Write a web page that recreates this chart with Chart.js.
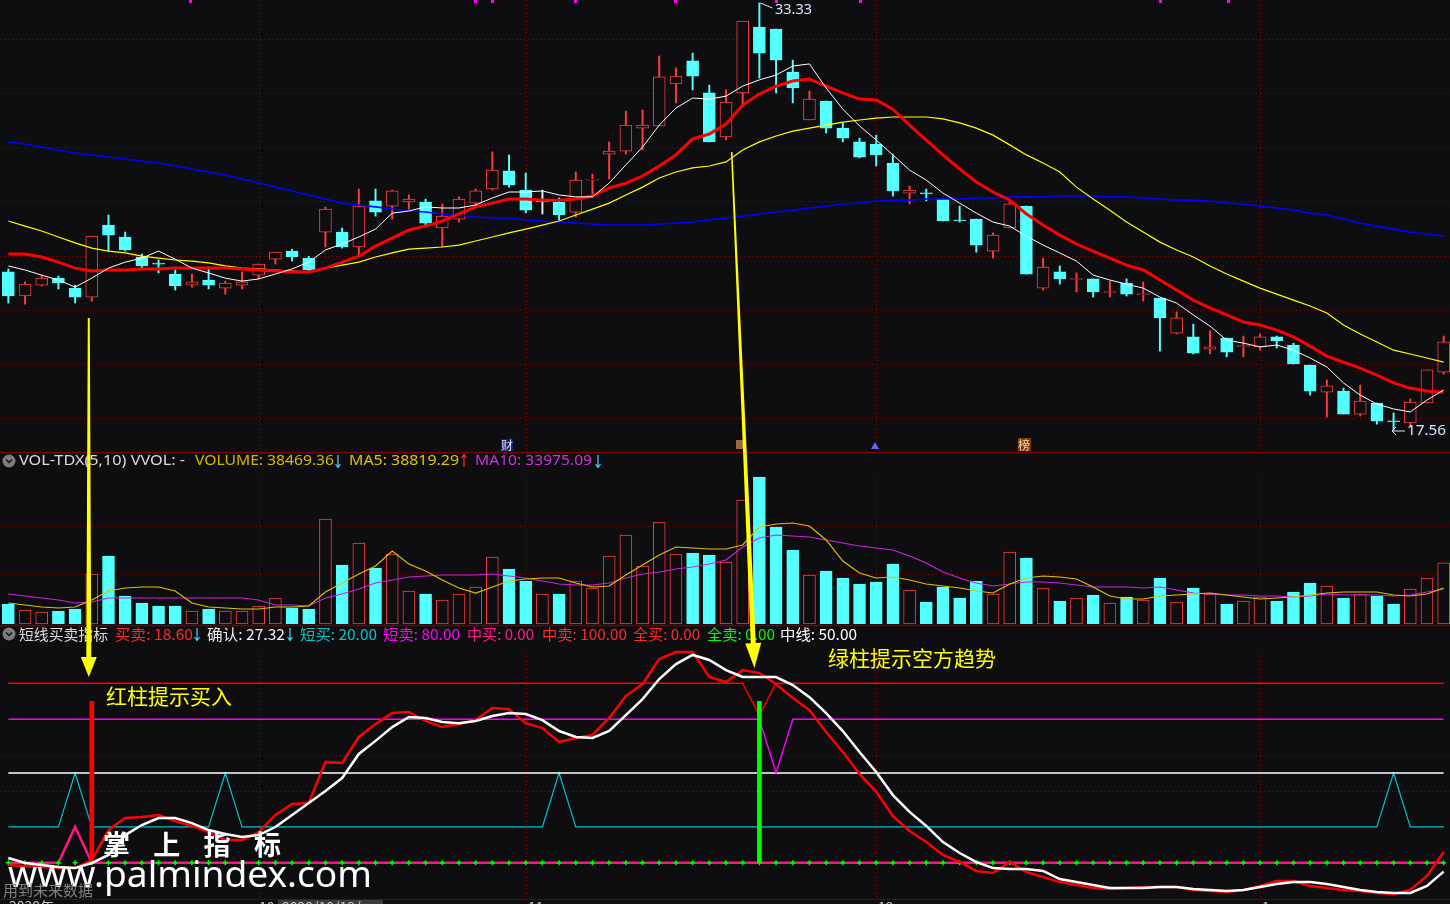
<!DOCTYPE html>
<html>
<head>
<meta charset="utf-8">
<script src="https://cdn.jsdelivr.net/npm/chart.js@4.4.0/dist/chart.umd.min.js"></script>
<style>
  html, body { margin: 0; padding: 0; background: #0e0e11; overflow: hidden; }
  #wrap { position: relative; width: 1450px; height: 904px; overflow: hidden; }
  canvas { position: absolute; left: 0; }
</style>
</head>
<body>
<div id="wrap">
  <canvas id="price" width="1452" height="452" style="top:0"></canvas>
  <canvas id="vol" width="1452" height="173" style="top:452px"></canvas>
  <canvas id="ind" width="1452" height="279" style="top:625px"></canvas>
  <canvas id="over" width="1450" height="904" style="top:0"></canvas>
</div>
<script>
// candles
const opens = [23.40,22.51,22.91,23.17,22.80,22.47,25.13,24.69,23.95,23.73,
  23.32,22.91,23.10,22.80,22.91,23.28,23.87,24.17,23.91,24.87,
  24.87,24.32,26.02,25.83,25.98,25.98,25.02,25.35,25.94,26.46,
  27.13,26.42,25.98,25.98,25.61,26.79,27.75,27.86,28.71,28.79,
  30.34,31.19,30.01,28.38,30.01,32.44,32.37,30.78,29.01,29.71,
  28.71,28.20,28.12,27.42,26.31,26.30,26.09,25.30,25.35,24.17,
  25.02,25.83,22.80,23.40,23.12,23.14,22.64,22.99,22.56,22.43,
  21.14,21.00,20.55,20.96,20.64,20.63,21.00,20.70,19.96,18.96,
  19.00,18.15,18.56,17.87,17.82,18.56,19.70];
const highs = [23.51,23.03,23.28,23.25,22.91,24.72,25.50,24.87,24.06,23.84,
  23.47,23.32,23.58,23.06,23.40,23.69,24.13,24.24,23.98,25.80,
  25.02,26.46,26.46,26.42,26.24,26.09,25.91,26.17,26.46,27.83,
  27.72,27.05,26.42,26.13,27.09,27.01,28.20,29.34,29.38,31.37,
  30.93,31.48,30.30,30.12,32.66,33.33,32.37,31.22,30.08,29.71,
  28.90,28.34,28.45,27.75,26.57,26.46,26.09,25.83,25.35,24.84,
  25.98,25.83,23.91,23.62,23.36,23.14,23.06,23.14,23.03,22.43,
  21.92,21.47,21.22,20.96,21.03,21.11,21.03,20.77,19.96,19.41,
  19.11,19.22,18.56,18.19,18.71,19.78,21.03];
const lows = [22.25,22.21,22.88,22.77,22.25,22.32,24.17,24.17,23.51,23.36,
  22.73,22.84,22.77,22.58,22.77,23.14,23.69,23.80,23.43,24.32,
  24.28,23.95,25.46,25.35,25.72,25.13,24.32,25.24,25.80,26.42,
  26.53,25.58,25.54,25.32,25.43,26.17,26.83,27.75,27.90,28.79,
  29.64,30.12,28.20,28.27,29.49,30.56,30.01,29.64,29.01,28.53,
  28.20,27.61,27.31,26.20,25.91,26.02,25.28,25.24,24.13,23.91,
  25.02,23.32,22.73,22.95,22.66,22.47,22.47,22.51,22.32,20.48,
  21.11,20.37,20.37,20.26,20.26,20.51,20.59,20.00,18.85,18.04,
  18.15,18.08,17.78,17.56,17.67,18.56,19.63];
const closes = [22.51,22.95,23.17,22.99,22.47,24.72,24.76,24.21,23.62,23.69,
  22.88,23.03,22.91,22.99,23.03,23.69,24.13,23.95,23.47,25.72,
  24.32,25.83,25.61,26.39,26.09,25.20,25.46,26.09,26.39,27.16,
  26.61,25.68,25.98,25.50,26.79,26.83,27.86,28.82,28.82,30.60,
  30.63,30.63,28.20,29.67,32.66,31.48,31.22,30.19,29.78,28.71,
  28.34,27.64,27.72,26.39,26.42,26.28,25.28,25.28,24.39,24.76,
  25.91,23.32,23.58,23.14,23.14,22.66,22.66,22.58,22.58,21.70,
  21.70,20.40,20.63,20.44,20.66,21.00,20.85,20.00,19.00,19.19,
  18.15,18.63,17.89,17.86,18.59,19.78,20.82];

// price moving averages
const ma5 = [23.62,23.47,23.28,23.10,22.84,23.17,23.54,23.76,23.91,24.17,
  23.87,23.54,23.36,23.17,23.06,23.14,23.32,23.51,23.76,24.21,
  24.43,24.69,24.98,25.57,25.65,25.80,25.76,25.76,25.87,26.13,
  26.35,26.35,26.39,26.24,26.17,26.17,26.68,27.35,28.01,28.82,
  29.45,29.82,29.78,29.89,30.26,30.49,30.67,31.00,31.08,30.19,
  29.41,28.79,28.27,27.72,27.16,26.79,26.31,25.94,25.57,25.24,
  25.09,24.72,24.39,24.10,23.80,23.28,23.10,22.95,22.80,22.47,
  22.25,21.81,21.40,20.88,20.77,20.63,20.70,20.51,20.22,19.89,
  19.30,18.85,18.52,18.34,18.23,18.67,19.04];
const ma10 = [24.06,24.06,23.95,23.76,23.54,23.43,23.47,23.47,23.51,23.51,
  23.54,23.54,23.54,23.54,23.51,23.47,23.43,23.40,23.40,23.54,
  23.76,23.98,24.35,24.65,24.95,25.09,25.28,25.54,25.80,25.94,
  26.09,26.09,26.05,26.05,26.09,26.20,26.50,26.68,26.94,27.31,
  27.72,28.31,28.49,28.86,29.56,29.97,30.26,30.45,30.52,30.26,
  30.01,29.78,29.75,29.41,28.82,28.27,27.72,27.20,26.72,26.35,
  26.05,25.54,25.13,24.76,24.43,24.17,23.91,23.65,23.47,23.10,
  22.73,22.36,22.07,21.81,21.55,21.44,21.25,21.00,20.66,20.29,
  20.07,19.85,19.59,19.30,19.11,19.00,18.96];
const ma20 = [25.28,25.09,24.91,24.69,24.47,24.28,24.17,24.10,23.98,23.91,
  23.84,23.80,23.73,23.62,23.54,23.51,23.47,23.43,23.40,23.54,
  23.65,23.76,23.95,24.10,24.24,24.28,24.32,24.39,24.54,24.69,
  24.84,24.98,25.13,25.28,25.50,25.72,25.94,26.24,26.53,26.87,
  27.09,27.24,27.31,27.46,27.90,28.20,28.42,28.60,28.71,28.82,
  28.93,29.01,29.08,29.12,29.12,29.12,29.05,28.90,28.71,28.45,
  28.09,27.72,27.42,27.09,26.53,26.09,25.68,25.24,24.87,24.50,
  24.21,23.95,23.62,23.32,23.06,22.80,22.58,22.36,22.14,21.88,
  21.44,21.11,20.81,20.51,20.37,20.22,20.07];
const ma60 = [28.20,28.12,28.01,27.90,27.79,27.72,27.64,27.57,27.49,27.42,
  27.31,27.20,27.09,26.98,26.83,26.68,26.53,26.39,26.24,26.09,
  25.94,25.87,25.80,25.72,25.65,25.61,25.54,25.50,25.43,25.39,
  25.39,25.32,25.28,25.24,25.20,25.17,25.13,25.13,25.13,25.17,
  25.20,25.24,25.32,25.39,25.46,25.54,25.61,25.68,25.76,25.83,
  25.91,25.94,26.02,26.05,26.05,26.09,26.09,26.09,26.13,26.13,
  26.17,26.17,26.17,26.20,26.20,26.20,26.17,26.17,26.13,26.09,
  26.05,26.05,26.02,25.94,25.91,25.83,25.76,25.68,25.57,25.50,
  25.35,25.20,25.09,24.98,24.87,24.80,24.72];

// volume panel
const volumes = [12600,8820,7560,8190,9450,31500,42840,17640,13230,11340,
  11340,8190,9450,8190,8190,11340,16380,10080,9450,66150,
  37170,51030,35280,44100,20790,18900,15120,18900,23310,42210,
  34650,27090,18900,18900,27090,22680,42840,56070,36540,64260,
  44100,44730,43470,39060,78120,92610,61110,46620,30870,33390,
  28980,25200,26460,37800,21420,13860,23310,16380,27090,18900,
  45360,41580,22680,14490,16380,18270,13230,17010,15120,28980,
  13860,22680,18900,12600,14490,17010,14490,20160,25830,23940,
  16380,18900,17640,12600,22050,28980,38469.36];
const volMa5 = [13230,11970,10710,10080,10710,15120,20790,22680,23310,23310,
  20790,13230,10710,10080,9450,9450,10710,10710,11340,20160,
  25830,31500,36540,45990,37800,33390,27720,22680,19530,23310,
  27090,28350,28980,28980,25830,23310,23940,30870,37170,43470,
  48510,47880,47250,47250,49770,61110,63000,63630,61740,52920,
  39690,32130,28980,29610,27720,25200,23940,22680,20790,19530,
  25200,28980,30240,29610,28350,23310,17640,15750,15750,17640,
  18270,18900,19530,18270,17010,15750,16380,17010,18270,19530,
  20160,20160,20160,18270,17640,18900,22680];
const volMa10 = [18900,17640,16380,15120,13230,13860,16380,16380,16380,16380,
  16380,16380,16380,16380,16380,15120,11970,11970,11340,16380,
  18900,22050,25830,27720,29610,30240,30870,30870,30870,31500,
  30240,28980,27090,25200,24570,24570,25830,28980,31500,32760,
  34650,35910,37800,40320,48510,54180,56070,55440,54810,52920,
  51030,49140,47880,46620,42840,38430,32760,28980,25830,23940,
  25200,26460,26460,25830,24570,23310,23310,23310,22680,23310,
  21420,19530,18900,18270,18270,17640,17640,17010,17640,18900,
  18270,18270,18270,17640,18270,20160,22050];

// 短线买卖指标
const buySell = [-1.3,-1.8,-2.4,-3.0,-3.0,1.5,18.2,24.9,25.5,26.6,
  23.2,20.5,17.1,12.7,12.7,17.1,26.6,32.7,33.3,56.2,
  55.6,70.1,77.3,83.4,84.0,79.0,75.6,77.3,79.5,86.2,
  85.6,77.8,75.0,67.3,69.5,71.2,80.7,92.9,99.6,113.5,
  117.4,117.4,103.5,100.7,107.4,105.7,99.6,91.8,85.1,72.9,
  61.7,49.5,39.5,26.0,17.7,11.5,4.3,0.4,-4.6,-5.7,
  0.4,-5.2,-8.0,-10.8,-12.4,-14.1,-14.7,-14.1,-13.5,-13.5,
  -13.5,-15.2,-15.8,-16.3,-15.2,-13.0,-10.2,-10.2,-13.0,-14.1,
  -15.2,-15.8,-16.9,-17.4,-15.2,-7.4,6.0];
const confirm = [2.6,-0.2,-1.3,-2.4,-3.0,-0.2,4.3,15.4,21.0,24.9,
  24.9,22.1,18.2,16.0,14.3,15.4,19.9,26.6,33.3,40.0,
  47.2,60.6,67.9,75.6,81.2,80.7,78.4,77.8,79.0,81.8,
  83.4,82.9,79.5,73.4,70.1,69.5,73.4,82.3,91.2,102.4,
  110.7,115.8,113.0,107.4,103.5,103.5,103.5,99.0,92.3,83.4,
  73.4,61.7,50.6,37.7,28.3,20.5,11.5,5.4,0.4,-3.0,
  -3.5,-3.5,-4.6,-9.1,-10.8,-12.4,-14.1,-14.1,-14.1,-13.5,
  -13.5,-14.7,-15.2,-15.8,-15.2,-13.5,-11.9,-10.8,-10.8,-11.9,
  -13.5,-15.2,-16.3,-16.9,-16.9,-13.0,-5.0];
const shortBuy = [20,20,20,20,50,20,20,20,20,20,
  20,20,20,50,20,20,20,20,20,20,
  20,20,20,20,20,20,20,20,20,20,
  20,20,20,50,20,20,20,20,20,20,
  20,20,20,20,20,20,20,20,20,20,
  20,20,20,20,20,20,20,20,20,20,
  20,20,20,20,20,20,20,20,20,20,
  20,20,20,20,20,20,20,20,20,20,
  20,20,20,50,20,20,20];
const shortSell = [80,80,80,80,80,80,80,80,80,80,
  80,80,80,80,80,80,80,80,80,80,
  80,80,80,80,80,80,80,80,80,80,
  80,80,80,80,80,80,80,80,80,80,
  80,80,80,80,80,80,50,80,80,80,
  80,80,80,80,80,80,80,80,80,80,
  80,80,80,80,80,80,80,80,80,80,
  80,80,80,80,80,80,80,80,80,80,
  80,80,80,80,80,80,80];
const midBuy = [0,0,0,0,20,0,0,0,0,0,
  0,0,0,0,0,0,0,0,0,0,
  0,0,0,0,0,0,0,0,0,0,
  0,0,0,0,0,0,0,0,0,0,
  0,0,0,0,0,0,0,0,0,0,
  0,0,0,0,0,0,0,0,0,0,
  0,0,0,0,0,0,0,0,0,0,
  0,0,0,0,0,0,0,0,0,0,
  0,0,0,0,0,0,0];
const midSell = [100,100,100,100,100,100,100,100,100,100,
  100,100,100,100,100,100,100,100,100,100,
  100,100,100,100,100,100,100,100,100,100,
  100,100,100,100,100,100,100,100,100,100,
  100,100,100,100,100,82,100,100,100,100,
  100,100,100,100,100,100,100,100,100,100,
  100,100,100,100,100,100,100,100,100,100,
  100,100,100,100,100,100,100,100,100,100,
  100,100,100,100,100,100,100];
const midLine = [50,50,50,50,50,50,50,50,50,50,
  50,50,50,50,50,50,50,50,50,50,
  50,50,50,50,50,50,50,50,50,50,
  50,50,50,50,50,50,50,50,50,50,
  50,50,50,50,50,50,50,50,50,50,
  50,50,50,50,50,50,50,50,50,50,
  50,50,50,50,50,50,50,50,50,50,
  50,50,50,50,50,50,50,50,50,50,
  50,50,50,50,50,50,50];
const allSellDots = midBuy.map(() => 0);
const allBuyDays = [5];
const allSellDays = [45];
const stickHeight = 90;
const gridDays = [15, 31, 52, 75];

const FONT = '"Noto Sans", "Noto Sans CJK SC", sans-serif';
const CJK = '"Noto Sans CJK SC", sans-serif';
const BG = '#0e0e11';
const UP = '#ff3b3b', DOWN = '#54ffff', FLAT = '#e8e8e8';

const days = opens.map((_, i) => i);
const candleColor = days.map(i => closes[i] > opens[i] ? UP : closes[i] < opens[i] ? DOWN : FLAT);
const candleFill = days.map(i => closes[i] > opens[i] ? BG : candleColor[i]);
const volColor = days.map(i => closes[i] >= opens[i] ? UP : DOWN);
const volFill = days.map(i => closes[i] >= opens[i] ? BG : DOWN);

// dotted grid, drawn under the data
const gridPlugin = {
  id: 'grid',
  beforeDatasetsDraw(chart, args, opts) {
    const { ctx, scales } = chart;
    ctx.save();
    ctx.strokeStyle = '#7c0c0c';
    ctx.lineWidth = 1;
    ctx.setLineDash([1, 3]);
    (opts.values || []).forEach(v => {
      const y = Math.round(scales.y.getPixelForValue(v)) + 0.5;
      ctx.beginPath(); ctx.moveTo(0, y); ctx.lineTo(chart.width, y); ctx.stroke();
    });
    (opts.rows || []).forEach(y => {
      ctx.beginPath(); ctx.moveTo(0, y + 0.5); ctx.lineTo(chart.width, y + 0.5); ctx.stroke();
    });
    gridDays.forEach(d => {
      const x = Math.round(scales.x.getPixelForValue(d)) + 0.5;
      ctx.beginPath(); ctx.moveTo(x, opts.colTop || 0); ctx.lineTo(x, opts.colBottom || chart.height); ctx.stroke();
    });
    ctx.restore();
  }
};

function baseOptions(yMin, yMax, padBottom, grid) {
  return {
    responsive: false,
    animation: false,
    devicePixelRatio: 1,
    events: [],
    layout: { autoPadding: false, padding: { left: 0, right: 0, top: 0, bottom: padBottom } },
    plugins: { legend: { display: false }, tooltip: { enabled: false }, grid: grid },
    scales: {
      x: { type: 'category', display: false, offset: true },
      y: { display: false, min: yMin, max: yMax }
    }
  };
}

function line(data, color, width, order) {
  return { type: 'line', data: data, borderColor: color, borderWidth: width, pointRadius: 0, tension: 0, order: order };
}

const priceChart = new Chart(document.getElementById('price'), {
  type: 'bar',
  data: {
    labels: days,
    datasets: [
      { data: days.map(i => [lows[i], highs[i]]), backgroundColor: candleColor, barThickness: 1.3, grouped: false, order: 6 },
      { data: days.map(i => [opens[i], closes[i]]), backgroundColor: candleFill, borderColor: candleColor,
        borderWidth: 1, borderSkipped: false, barThickness: 12, minBarLength: 1, grouped: false, order: 5 },
      line(ma60, '#0000ff', 1.6, 4),
      line(ma20, '#ffff00', 1.2, 3),
      line(ma10, '#ff0000', 3, 2),
      line(ma5, '#ffffff', 1, 1)
    ]
  },
  options: baseOptions(16.75, 33.44, 0, { values: [32, 30, 28, 26, 24, 22, 20, 18] }),
  plugins: [gridPlugin]
});

const volChart = new Chart(document.getElementById('vol'), {
  type: 'bar',
  data: {
    labels: days,
    datasets: [
      { data: volumes, backgroundColor: volFill, borderColor: volColor, borderWidth: 1,
        borderSkipped: false, barThickness: 12, grouped: false, order: 3 },
      line(volMa10, '#d21ee0', 1.2, 2),
      line(volMa5, '#e0c000', 1.2, 1)
    ]
  },
  options: baseOptions(0, 108360, 1, { rows: [74, 122], colTop: 25, colBottom: 172 }),
  plugins: [gridPlugin]
});

const indChart = new Chart(document.getElementById('ind'), {
  type: 'bar',
  data: {
    labels: days,
    datasets: [
      line(midSell, '#ff0000', 1.4, 9),
      line(shortSell, '#ff00ff', 1.4, 9),
      line(midLine, '#ffffff', 1.5, 9),
      line(shortBuy, '#00c4d0', 1.2, 9),
      line(midBuy, '#ff1480', 2.5, 8),
      { data: days.map(i => allBuyDays.includes(i) ? stickHeight : null), backgroundColor: '#ff0000',
        barThickness: 4, grouped: false, order: 7 },
      { data: days.map(i => allSellDays.includes(i) ? stickHeight : null), backgroundColor: '#00ff00',
        barThickness: 4, grouped: false, order: 7 },
      { type: 'line', data: allSellDots, showLine: false, pointStyle: 'cross', pointRadius: 2.5,
        pointBorderWidth: 1.5, pointBorderColor: '#00ff00', pointBackgroundColor: '#00ff00', order: 6 },
      line(buySell, '#ff0000', 2.5, 2),
      line(confirm, '#ffffff', 2.5, 1)
    ]
  },
  options: baseOptions(-23.02, 132.5, 0, { values: [60, 40], colTop: 27, colBottom: 274 }),
  plugins: [gridPlugin]
});

// overlay: frame, headers, annotations
const ov = document.getElementById('over').getContext('2d');
const xAt = i => priceChart.scales.x.getPixelForValue(i);

function txt(s, x, y, color, size, weight, family) {
  ov.font = (weight || 'normal') + ' ' + size + 'px ' + (family || FONT);
  ov.fillStyle = color;
  ov.textBaseline = 'middle';
  ov.fillText(s, x, y);
}
// text stretched to span x0..x1
function fit(s, x0, x1, y, color, size, family, baseline) {
  ov.font = size + 'px ' + (family || FONT);
  ov.fillStyle = color;
  ov.textBaseline = baseline || 'middle';
  const w = ov.measureText(s).width;
  ov.save();
  ov.translate(x0, y);
  ov.scale((x1 - x0) / w, 1);
  ov.fillText(s, 0, 0);
  ov.restore();
}
function updown(x, y, up, color) {
  ov.strokeStyle = color; ov.lineWidth = 1.2;
  ov.beginPath();
  ov.moveTo(x, y - 6); ov.lineTo(x, y + 6);
  if (up) { ov.moveTo(x - 2.5, y - 3); ov.lineTo(x, y - 6.5); ov.lineTo(x + 2.5, y - 3); }
  else { ov.moveTo(x - 2.5, y + 3); ov.lineTo(x, y + 6.5); ov.lineTo(x + 2.5, y + 3); }
  ov.stroke();
}
function hline(y, color, w) {
  ov.strokeStyle = color; ov.lineWidth = w;
  ov.beginPath(); ov.moveTo(0, y); ov.lineTo(1450, y); ov.stroke();
}
function chevron(cx, cy) {
  ov.fillStyle = '#7c7c7c';
  ov.beginPath(); ov.arc(cx, cy, 6.5, 0, Math.PI * 2); ov.fill();
  ov.strokeStyle = '#161616'; ov.lineWidth = 1.5;
  ov.beginPath(); ov.moveTo(cx - 3, cy - 1.5); ov.lineTo(cx, cy + 1.5); ov.lineTo(cx + 3, cy - 1.5); ov.stroke();
}
function arrow(x1, y1, x2, y2, w1, w2, headW, headL) {
  const dx = x2 - x1, dy = y2 - y1, len = Math.hypot(dx, dy);
  const ux = dx / len, uy = dy / len, nx = -uy, ny = ux;
  const bx = x2 - ux * headL, by = y2 - uy * headL;
  ov.fillStyle = '#ffff00';
  ov.beginPath();
  ov.moveTo(x1 + nx * w1 / 2, y1 + ny * w1 / 2);
  ov.lineTo(bx + nx * w2 / 2, by + ny * w2 / 2);
  ov.lineTo(bx + nx * headW / 2, by + ny * headW / 2);
  ov.lineTo(x2, y2);
  ov.lineTo(bx - nx * headW / 2, by - ny * headW / 2);
  ov.lineTo(bx - nx * w2 / 2, by - ny * w2 / 2);
  ov.lineTo(x1 - nx * w1 / 2, y1 - ny * w1 / 2);
  ov.closePath();
  ov.fill();
}

// panel separators and bottom axis
hline(452.5, '#780000', 1.5);
hline(625.5, '#780000', 1.5);
hline(899.5, '#780000', 1);

// small magenta marks on top edge
ov.fillStyle = '#ff00ff';
[190, 475, 492, 575, 675, 776, 860, 1160, 1228].forEach(x => ov.fillRect(x - 1, 0, 3, 3));

// high / low labels
ov.strokeStyle = '#d6e4ff'; ov.lineWidth = 1;
ov.beginPath(); ov.moveTo(xAt(45) + 1, 3); ov.lineTo(xAt(45) + 13, 8); ov.stroke();
fit('33.33', 775, 812, 10, '#d6e4ff', 15);
ov.beginPath(); ov.moveTo(1392, 431); ov.lineTo(1405, 431);
ov.moveTo(1392, 431); ov.lineTo(1396, 427); ov.moveTo(1392, 431); ov.lineTo(1396, 435); ov.stroke();
fit('17.56', 1407, 1446, 431, '#d6e4ff', 15);

// event markers at the bottom of the price panel
ov.fillStyle = '#16206a'; ov.fillRect(501, 439, 12, 12);
txt('财', 501, 445, '#e0e0ff', 12, 'normal', CJK);
ov.fillStyle = '#9a6a3a'; ov.fillRect(736, 440, 8, 9);
ov.fillStyle = '#7060ff';
ov.beginPath(); ov.moveTo(871, 449); ov.lineTo(875, 442); ov.lineTo(879, 449); ov.closePath(); ov.fill();
ov.fillStyle = '#7a3a10'; ov.fillRect(1018, 438, 13, 13);
txt('榜', 1018, 445, '#f4d8b0', 12, 'normal', CJK);

// volume header
chevron(9, 461);
[['VOL-TDX(5,10) VVOL: -', 19, 185, '#dcdcdc'], ['VOLUME: 38469.36', 195, 334, '#d2b900'],
 ['MA5: 38819.29', 349, 459, '#e0c400'], ['MA10: 33975.09', 475, 592, '#cc33dd']]
  .forEach(([s, x0, x1, c]) => fit(s, x0, x1, 461, c, 15));
updown(338, 461, false, '#3fd9ff');
updown(464, 461, true, '#ff3030');
updown(598, 461, false, '#3fd9ff');

// indicator header
chevron(9, 634);
[['短线买卖指标', 19, 108, '#dcdcdc'], ['买卖: 18.60', 115, 193, '#ff2a2a'], ['确认: 27.32', 207, 285, '#eeeeee'],
 ['短买: 20.00', 300, 377, '#00c8c8'], ['短卖: 80.00', 383, 460, '#ff00ff'], ['中买: 0.00', 467, 534, '#ff1a8c'],
 ['中卖: 100.00', 542, 627, '#ff2a2a'], ['全买: 0.00', 633, 700, '#ff2a2a'], ['全卖: 0.00', 707, 775, '#00ff00'],
 ['中线: 50.00', 780, 857, '#ffffff']]
  .forEach(([s, x0, x1, c]) => fit(s, x0, x1, 634, c, 15, CJK));
updown(197, 634, false, '#3fd9ff');
updown(290, 634, false, '#3fd9ff');

// date axis, mostly cut off by the bottom edge
ov.fillStyle = '#3c3c3c'; ov.fillRect(278, 900, 105, 6);
ov.font = '14px ' + CJK; ov.textBaseline = 'top'; ov.fillStyle = '#c8c8c8';
[['2020年', 9], ['10', 259], ['2020/10/13/', 282], ['11', 528], ['12', 878], ['1', 1262]]
  .forEach(([s, x]) => ov.fillText(s, x, 900));

// watermark
['掌', '上', '指', '标'].forEach((ch, k) => txt(ch, 103 + k * 50.3, 845, '#ffffff', 27, 'bold', CJK));
fit('www.palmindex.com', 8, 372, 887, '#ffffff', 36, '"Noto Sans", sans-serif', 'alphabetic');
fit('用到未来数据', 3, 93, 890, '#808080', 15, CJK);

// annotations
arrow(xAt(5) - 3, 318, xAt(5) - 3, 677, 2, 5, 16, 20);
arrow(xAt(44) - 11, 152, xAt(45) - 5, 668, 1.5, 5, 16, 25);
fit('红柱提示买入', 106, 232, 696, '#ffff00', 21, CJK);
fit('绿柱提示空方趋势', 828, 996, 658, '#ffff00', 21, CJK);
</script>
</body>
</html>
